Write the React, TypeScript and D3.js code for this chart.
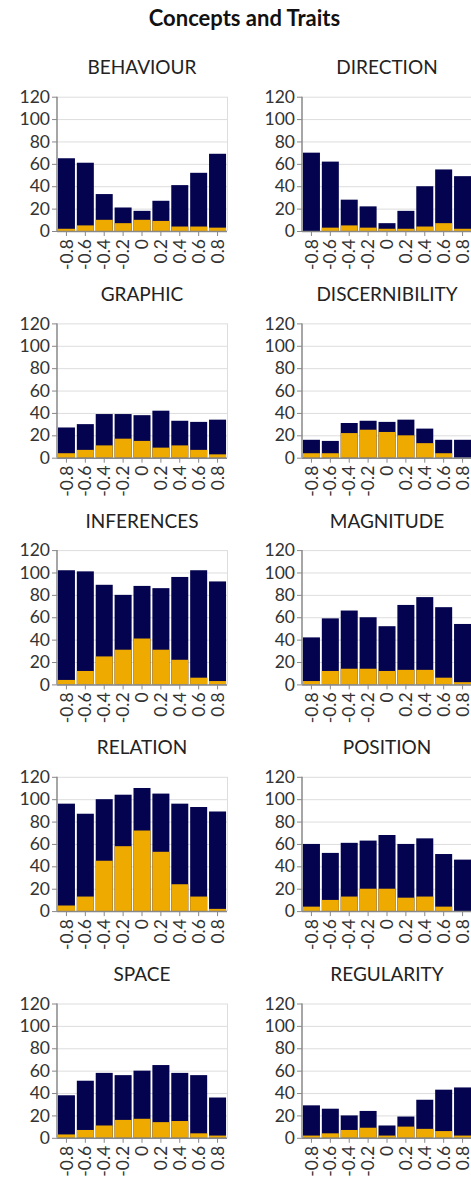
import React from 'react';
import * as d3 from 'd3';

const bins = ['-0.8', '-0.6', '-0.4', '-0.2', '0', '0.2', '0.4', '0.6', '0.8'];
const yTicks = [0, 20, 40, 60, 80, 100, 120];
const concepts = ['BEHAVIOUR', 'DIRECTION', 'GRAPHIC', 'DISCERNIBILITY', 'INFERENCES', 'MAGNITUDE', 'RELATION', 'POSITION', 'SPACE', 'REGULARITY'];

const behaviourAll = [65, 61, 33, 21, 18, 27, 41, 52, 69];
const behaviourSub = [2, 5, 10, 7, 10, 9, 4, 4, 3];
const directionAll = [70, 62, 28, 22, 7, 18, 40, 55, 49];
const directionSub = [0, 3, 5, 3, 2, 2, 4, 7, 2];
const graphicAll = [27, 30, 39, 39, 38, 42, 33, 32, 34];
const graphicSub = [4, 7, 11, 17, 15, 9, 11, 7, 3];
const discernibilityAll = [16, 15, 31, 33, 32, 34, 26, 16, 16];
const discernibilitySub = [4, 4, 22, 25, 23, 20, 13, 4, 0];
const inferencesAll = [102, 101, 89, 80, 88, 86, 96, 102, 92];
const inferencesSub = [4, 12, 25, 31, 41, 31, 22, 6, 3];
const magnitudeAll = [42, 59, 66, 60, 52, 71, 78, 69, 54];
const magnitudeSub = [3, 12, 14, 14, 12, 13, 13, 6, 2];
const relationAll = [96, 87, 100, 104, 110, 105, 96, 93, 89];
const relationSub = [5, 13, 45, 58, 72, 53, 24, 13, 2];
const positionAll = [60, 52, 61, 63, 68, 60, 65, 51, 46];
const positionSub = [4, 10, 13, 20, 20, 12, 13, 4, 0];
const spaceAll = [38, 51, 58, 56, 60, 65, 58, 56, 36];
const spaceSub = [3, 7, 11, 16, 17, 14, 15, 4, 2];
const regularityAll = [29, 26, 20, 24, 11, 19, 34, 43, 45];
const regularitySub = [2, 4, 7, 9, 2, 10, 8, 6, 2];

const allSeries = [behaviourAll, directionAll, graphicAll, discernibilityAll, inferencesAll, magnitudeAll, relationAll, positionAll, spaceAll, regularityAll];
const subSeries = [behaviourSub, directionSub, graphicSub, discernibilitySub, inferencesSub, magnitudeSub, relationSub, positionSub, spaceSub, regularitySub];

const W = 471;
const H = 1178;
const FONT = 'Lato, "Open Sans", sans-serif';
const NAVY = '#03034f';
const ORANGE = '#efaa00';
const colX = [57, 302];
const rowTop0 = 96.7;
const rowStep = 226.7;
const pw = 170;
const ph = 134.3;

function Panel({ idx }: { idx: number }) {
  const col = idx % 2;
  const row = Math.floor(idx / 2);
  const x0 = colX[col];
  const y0 = rowTop0 + row * rowStep;
  const x = d3.scaleBand<string>().domain(bins).range([0, pw]).paddingInner(0.1).paddingOuter(0.05);
  const y = d3.scaleLinear().domain([0, 120]).range([ph, 0]);
  const all = allSeries[idx];
  const sub = subSeries[idx];
  return (
    <g transform={`translate(${x0},${y0})`}>
      <text x={pw / 2} y={-22.5} textAnchor="middle" fontSize={19} fill="#222" fontFamily={FONT}>{concepts[idx]}</text>
      {yTicks.map((t) => (
        <line key={'g' + t} x1={0} x2={pw} y1={y(t) + 0.5} y2={y(t) + 0.5} stroke="#ddd" strokeWidth={1} />
      ))}
      <line x1={pw + 0.5} x2={pw + 0.5} y1={0} y2={ph} stroke="#ddd" />
      {bins.map((b, i) => (
        <g key={b}>
          <rect x={x(b)} width={x.bandwidth()} y={y(all[i])} height={ph - y(all[i])} fill={NAVY} />
          <rect x={x(b)} width={x.bandwidth()} y={y(sub[i])} height={ph - y(sub[i])} fill={ORANGE} />
        </g>
      ))}
      <line x1={0} x2={0} y1={0} y2={ph} stroke="#888" strokeWidth={1.5} />
      {yTicks.map((t) => (
        <g key={'y' + t} transform={`translate(0,${y(t)})`}>
          <line x1={-5} x2={0} y1={0.5} y2={0.5} stroke="#888" />
          <text x={-7} y={0} dy="0.35em" textAnchor="end" fontSize={17.5} fill="#333" fontFamily={FONT}>{t}</text>
        </g>
      ))}
      <line x1={0} x2={pw} y1={ph + 0.5} y2={ph + 0.5} stroke="#888" strokeWidth={1.5} />
      {bins.map((b) => {
        const cx = (x(b) as number) + x.bandwidth() / 2;
        return (
          <g key={'x' + b} transform={`translate(${cx},${ph})`}>
            <line x1={0} x2={0} y1={0} y2={5} stroke="#888" />
            <text transform="translate(0,8) rotate(-90)" dy="0.35em" textAnchor="end" fontSize={17.5} fill="#333" fontFamily={FONT}>{b}</text>
          </g>
        );
      })}
    </g>
  );
}

export default function App() {
  return (
    <svg width={W} height={H} style={{ position: 'absolute', left: 0, top: 0, background: '#fff' }}>
      <text x={244.5} y={25.5} textAnchor="middle" fontSize={22} fontWeight="bold" fill="#111" fontFamily={FONT}>Concepts and Traits</text>
      {concepts.map((c, i) => (
        <Panel key={c} idx={i} />
      ))}
    </svg>
  );
}
